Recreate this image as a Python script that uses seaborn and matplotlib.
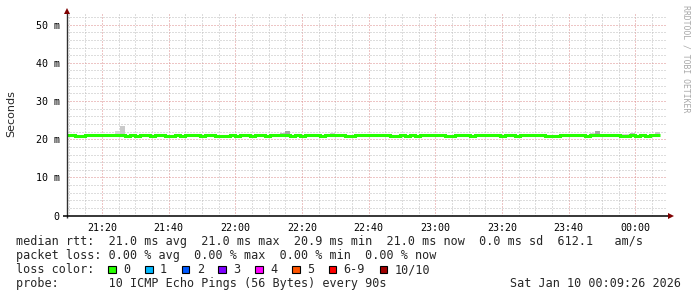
import numpy as np
import pandas as pd
import matplotlib
matplotlib.use("Agg")
import matplotlib.pyplot as plt
import seaborn as sns
from matplotlib.ticker import FixedLocator, NullFormatter
from matplotlib.patches import Rectangle

# ---------------- data ----------------
start_minute = 9.0          # first sample at 21:09:00 (minutes after 21:00)
step_minute = 1.5           # 90 s probe interval
view_start = 9.4333         # 21:09:26
view_end = 189.4333         # 00:09:26

median_ms = [
    21.05, 21.05, 20.85, 20.85, 21.05, 21.05, 21.05, 21.05, 21.05, 21.05,
    21.05, 21.05, 20.85, 21.05, 20.85, 21.05, 21.05, 20.85, 21.05, 21.05,
    20.85, 20.85, 21.05, 20.85, 21.05, 21.05, 21.05, 20.85, 21.05, 21.05,
    20.85, 20.85, 20.85, 21.05, 20.85, 21.05, 21.05, 20.85, 21.05, 21.05,
    20.85, 21.05, 21.05, 21.05, 21.05, 20.85, 21.05, 20.85, 21.05, 21.05,
    21.05, 20.85, 21.05, 21.05, 21.05, 21.05, 20.85, 20.85, 21.05, 21.05,
    21.05, 21.05, 21.05, 21.05, 21.05, 20.85, 20.85, 21.05, 20.85, 21.05,
    20.85, 21.05, 21.05, 21.05, 21.05, 21.05, 20.85, 20.85, 21.05, 21.05,
    21.05, 20.85, 21.05, 21.05, 21.05, 21.05, 21.05, 20.85, 21.05, 21.05,
    20.85, 21.05, 21.05, 21.05, 21.05, 21.05, 20.85, 20.85, 20.85, 21.05,
    21.05, 21.05, 21.05, 21.05, 20.85, 21.05, 21.05, 21.05, 21.05, 21.05,
    21.05, 20.85, 20.85, 21.05, 20.85, 21.05, 20.85, 21.05, 21.05,
]

smoke_index = [10, 11, 38, 43, 44, 53, 105, 106, 111, 112, 113, 118]
smoke_top_ms = [22.2, 23.4, 21.35, 21.7, 22.2, 21.7, 21.7, 22.2, 21.3, 21.4, 21.7, 22.0]
smoke_shade = ["#d6d6d6", "#cacaca", "#d6d6d6", "#b8b8b8", "#a6a6a6", "#d0d0d0",
               "#d0d0d0", "#a6a6a6", "#d6d6d6", "#d0d0d0", "#bcbcbc", "#c8c8c8"]

x_tick_pos = [20, 40, 60, 80, 100, 120, 140, 160, 180]
x_tick_labels = ["21:20", "21:40", "22:00", "22:20", "22:40", "23:00", "23:20", "23:40", "00:00"]
x_minor_pos = [v for v in range(10, 190, 5)]
y_tick_pos = [0, 10, 20, 30, 40, 50]
y_tick_labels = ["0", "10 m", "20 m", "30 m", "40 m", "50 m"]
y_minor_pos = [v for v in range(2, 54, 2)]
y_max = 53.3

loss_labels = ["0", "1", "2", "3", "4", "5", "6-9", "10/10"]
loss_colors = ["#26ff00", "#00b8ff", "#0059ff", "#7e00ff", "#ff00ff", "#ff5500", "#ff0000", "#a10000"]

stat_line1 = "median rtt:  21.0 ms avg  21.0 ms max  20.9 ms min  21.0 ms now  0.0 ms sd  612.1   am/s"
stat_line2 = "packet loss: 0.00 % avg  0.00 % max  0.00 % min  0.00 % now"
stat_line3 = "loss color:"
stat_line4 = "probe:       10 ICMP Echo Pings (56 Bytes) every 90s"
stamp = "Sat Jan 10 00:09:26 2026"
watermark = "RRDTOOL / TOBI OETIKER"

# ---------------- figure ----------------
sns.set_style("white")
plt.rcParams["font.family"] = ["DejaVu Sans"]
MONO = "DejaVu Sans Mono"

W, H = 697, 297
fig = plt.figure(figsize=(W / 100, H / 100), dpi=100)
fig.patch.set_facecolor("white")

ax_l, ax_r, ax_t, ax_b = 66.67, 666.67, 12.0, 215.7
ax = fig.add_axes([ax_l / W, 1 - ax_b / H, (ax_r - ax_l) / W, (ax_b - ax_t) / H])
ax.set_facecolor("white")

n = len(median_ms)
edges = [start_minute + step_minute * i for i in range(n + 1)]
df = pd.DataFrame({"minute": edges, "median": median_ms + [median_ms[-1]]})

# smoke
sx = [edges[i] for i in smoke_index]
sbottom = [median_ms[i] - 0.15 for i in smoke_index]
sheight = [t - b for t, b in zip(smoke_top_ms, sbottom)]
ax.bar(sx, sheight, bottom=sbottom, width=step_minute, align="edge",
       color=smoke_shade, linewidth=0, zorder=2)

# median line
sns.lineplot(data=df, x="minute", y="median", ax=ax, color="#26ff00",
             linewidth=2.2, drawstyle="steps-post", estimator=None, zorder=3)
for ln in ax.lines:
    ln.set_solid_joinstyle("miter")
    ln.set_solid_capstyle("butt")

ax.set_xlim(view_start, view_end)
ax.set_ylim(0, y_max)
ax.set_xlabel("")
ax.set_ylabel("")

# grid
ax.xaxis.set_major_locator(FixedLocator(x_tick_pos))
ax.xaxis.set_minor_locator(FixedLocator(x_minor_pos))
ax.yaxis.set_major_locator(FixedLocator(y_tick_pos))
ax.yaxis.set_minor_locator(FixedLocator(y_minor_pos))
ax.set_xticklabels(x_tick_labels, fontfamily=MONO, fontsize=7.2)
ax.set_yticklabels(y_tick_labels, fontfamily=MONO, fontsize=7.2)
ax.xaxis.set_minor_formatter(NullFormatter())
ax.yaxis.set_minor_formatter(NullFormatter())

ax.grid(which="minor", color="#bdbdbd", linestyle=(0, (1, 2)), linewidth=0.72, zorder=0)
ax.grid(which="major", color="#dc8c8c", linestyle=(0, (1, 2)), linewidth=0.72, zorder=0)
ax.set_axisbelow(True)

ax.tick_params(axis="both", which="major", length=2.5, width=0.72, color="#404040",
               pad=2.4, labelcolor="black")
ax.tick_params(axis="both", which="minor", length=1.6, width=0.72, color="#808080")
ax.tick_params(axis="x", which="major", pad=3.0)

for s in ax.spines.values():
    s.set_visible(False)

plot_w = ax_r - ax_l
plot_h = ax_b - ax_t
# axis lines
ax.plot([0, 0], [-2.5 / plot_h, 1.0], transform=ax.transAxes, color="#303030",
        linewidth=1.0, clip_on=False, zorder=5, solid_capstyle="butt")
ax.plot([-4 / plot_w, 1.0 + 3 / plot_w], [0, 0], transform=ax.transAxes, color="#000000",
        linewidth=1.1, clip_on=False, zorder=5, solid_capstyle="butt")
# arrows
ax.plot([0], [1.0 + 1.5 / plot_h], transform=ax.transAxes, marker="^", markersize=4.2,
        color="#7f0000", markeredgewidth=0, clip_on=False, zorder=6)
ax.plot([1.0 + 4.8 / plot_w], [0], transform=ax.transAxes, marker=">", markersize=4.2,
        color="#7f0000", markeredgewidth=0, clip_on=False, zorder=6)

# y label and watermark
fig.text(11 / W, 1 - 113.8 / H, "Seconds", rotation=90, ha="center", va="center",
         fontsize=8, family="DejaVu Sans")
fig.text(686 / W, 1 - 5 / H, watermark, rotation=270, ha="center", va="top",
         fontsize=5.9, family=MONO, color="#a8a8a8")

# legend / stats text
FS = 8.5
CW = 7.107
base = [245.3, 259.3, 273.3, 287.3]
fig.text(16 / W, 1 - base[0] / H, stat_line1, family=MONO, fontsize=FS, va="baseline")
fig.text(16 / W, 1 - base[1] / H, stat_line2, family=MONO, fontsize=FS, va="baseline")
fig.text(16 / W, 1 - base[2] / H, stat_line3, family=MONO, fontsize=FS, va="baseline")
fig.text(16 / W, 1 - base[3] / H, stat_line4, family=MONO, fontsize=FS, va="baseline")
fig.text(681.5 / W, 1 - base[3] / H, stamp, family=MONO, fontsize=FS, va="baseline", ha="right")

sq = 108.3
sq_size = 7.7
for lab, col in zip(loss_labels, loss_colors):
    fig.patches.append(Rectangle((sq / W, 1 - base[2] / H), sq_size / W, sq_size / H,
                                 transform=fig.transFigure, facecolor=col,
                                 edgecolor="black", linewidth=0.8, figure=fig))
    lx = sq + 15.0
    fig.text(lx / W, 1 - base[2] / H, lab, family=MONO, fontsize=FS, va="baseline")
    sq = lx + (len(lab) + 2) * CW + 0.4

fig.savefig("out.png", dpi=100, facecolor="white")
